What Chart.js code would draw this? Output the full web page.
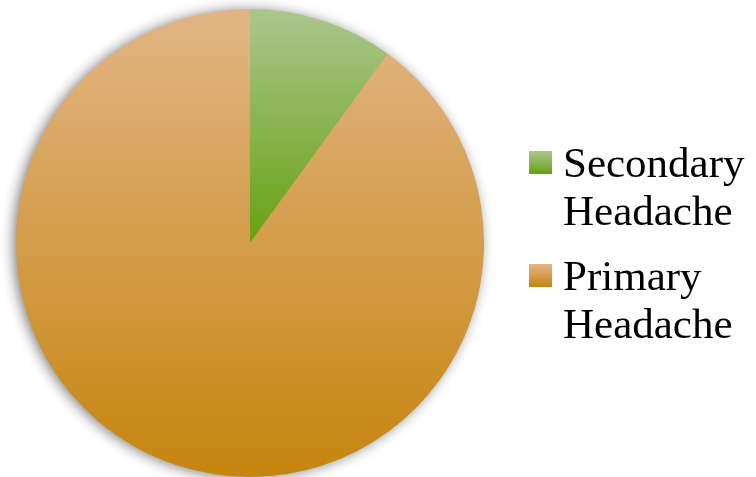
<!DOCTYPE html>
<html>
<head>
<meta charset="utf-8">
<script src="https://cdn.jsdelivr.net/npm/chart.js@4/dist/chart.umd.min.js"></script>
<style>
  html, body { margin: 0; padding: 0; background: #fff; }
  #wrap { position: relative; width: 756px; height: 477px; }
  #legend { position: absolute; left: 529px; top: 0; font-family: "Liberation Serif", "Times New Roman", serif; font-size: 43px; line-height: 48px; color: #000; }
  .item { position: absolute; left: 0; white-space: nowrap; }
  .box { position: absolute; left: 0; width: 23px; height: 23px; }
  .txt { position: absolute; left: 34px; top: -6px; }
</style>
</head>
<body>
<div id="wrap">
  <canvas id="chartHeadache" width="756" height="477"></canvas>
  <div id="legend"></div>
</div>
<script>
const labels = [["Secondary", "Headache"], ["Primary", "Headache"]];
const values = [10, 90];
const topColors = ["#abc68d", "#e2b585"];
const bottomColors = ["#67a212", "#c6850e"];

// gradient for each slice over its own vertical extent
function sliceFill(context) {
  const chart = context.chart;
  const area = chart.chartArea;
  const i = context.dataIndex;
  if (!area) return bottomColors[i];
  const cy = (area.top + area.bottom) / 2;
  const r = Math.min(area.right - area.left, area.bottom - area.top) / 2;
  const y0 = cy - r;
  const y1 = i === 0 ? cy : cy + r;
  const g = chart.ctx.createLinearGradient(0, y0, 0, y1);
  g.addColorStop(0, topColors[i]);
  g.addColorStop(1, bottomColors[i]);
  return g;
}

const pieShadow = {
  id: "pieShadow",
  beforeDatasetsDraw(chart) {
    const arc = chart.getDatasetMeta(0).data[0];
    if (!arc) return;
    const ctx = chart.ctx;
    ctx.save();
    ctx.shadowColor = "rgba(0,0,0,0.55)";
    ctx.shadowBlur = 14;
    ctx.shadowOffsetX = -3;
    ctx.shadowOffsetY = 1;
    ctx.fillStyle = "#d9a05a";
    ctx.beginPath();
    ctx.arc(arc.x, arc.y, arc.outerRadius - 1, 0, Math.PI * 2);
    ctx.fill();
    ctx.restore();
  },
};

const ctx = document.getElementById("chartHeadache").getContext("2d");
const myChart = new Chart(ctx, {
  type: "pie",
  data: {
    labels: labels,
    datasets: [
      {
        data: values,
        backgroundColor: sliceFill,
        borderWidth: 0,
      },
    ],
  },
  options: {
    responsive: false,
    animation: false,
    layout: {
      padding: { left: 16, right: 272, top: 9, bottom: 0 },
    },
    plugins: {
      legend: { display: false },
      tooltip: { enabled: false },
    },
  },
  plugins: [pieShadow],
});

// html legend built from the same arrays
const tops = [145, 258];
let temp = "";
labels.forEach((lab, i) => {
  temp += `<div class="item" style="top:${tops[i]}px">`;
  temp += `<div class="box" style="top:6px;background:linear-gradient(${topColors[i]},${bottomColors[i]})"></div>`;
  temp += `<div class="txt">${lab.join("<br>")}</div>`;
  temp += `</div>`;
});
document.getElementById("legend").innerHTML = temp;
</script>
</body>
</html>
